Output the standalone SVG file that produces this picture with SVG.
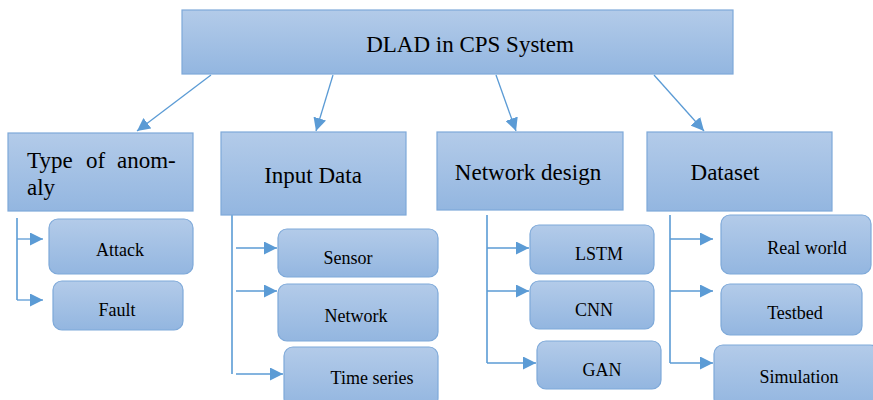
<svg xmlns="http://www.w3.org/2000/svg" width="873" height="400" viewBox="0 0 873 400">
<defs>
<linearGradient id="g" x1="0" y1="0" x2="0" y2="1">
<stop offset="0" stop-color="#b3cbe9"/>
<stop offset="1" stop-color="#93b6e0"/>
</linearGradient>
<marker id="ah2" viewBox="0 0 12 12" refX="12" refY="6" markerWidth="13" markerHeight="13" markerUnits="userSpaceOnUse" orient="auto">
<path d="M0,0 L12,6 L0,12 Z" fill="#5b9bd5"/>
</marker>
</defs>
<style>
.box{fill:url(#g);stroke:#7ea9d9;stroke-width:1.2}
text{font-family:'Liberation Serif','DejaVu Serif',serif;fill:#000}
.big{font-size:23px}
.sm{font-size:18px;text-anchor:middle}
.c{stroke:#5b9bd5;stroke-width:1.3;fill:none}
.br{stroke:#5b9bd5;stroke-width:1.6;fill:none}
</style>
<g id="connectors">
<line class="c" x1="211" y1="75" x2="137" y2="131" marker-end="url(#ah2)"/>
<line class="c" x1="333" y1="75" x2="316" y2="131" marker-end="url(#ah2)"/>
<line class="c" x1="496" y1="75" x2="516" y2="131" marker-end="url(#ah2)"/>
<line class="c" x1="654" y1="75" x2="704" y2="131" marker-end="url(#ah2)"/>
<polyline class="br" points="17,218 17,300"/>
<line class="c" x1="17" y1="239" x2="43" y2="239" marker-end="url(#ah2)"/>
<line class="c" x1="17" y1="300" x2="43" y2="300" marker-end="url(#ah2)"/>
<polyline class="br" points="232,215 232,374"/>
<line class="c" x1="236" y1="248" x2="277" y2="248" marker-end="url(#ah2)"/>
<line class="c" x1="236" y1="291" x2="277" y2="291" marker-end="url(#ah2)"/>
<line class="c" x1="236" y1="374" x2="283" y2="374" marker-end="url(#ah2)"/>
<polyline class="br" points="487,215 487,363"/>
<line class="c" x1="487" y1="248" x2="529" y2="248" marker-end="url(#ah2)"/>
<line class="c" x1="487" y1="291" x2="529" y2="291" marker-end="url(#ah2)"/>
<line class="c" x1="487" y1="363" x2="536" y2="363" marker-end="url(#ah2)"/>
<polyline class="br" points="670,215 670,363"/>
<line class="c" x1="670" y1="239" x2="713" y2="239" marker-end="url(#ah2)"/>
<line class="c" x1="670" y1="291" x2="713" y2="291" marker-end="url(#ah2)"/>
<line class="c" x1="670" y1="363" x2="713" y2="363" marker-end="url(#ah2)"/>
</g>
<g id="root">
<rect class="box" x="182" y="10" width="551" height="64"/>
<text class="big" x="470" y="52" text-anchor="middle">DLAD in CPS System</text>
</g>
<g id="type-of-anomaly">
<rect class="box" x="8" y="133" width="185" height="78"/>
<text class="big" y="168"><tspan x="27">Type</tspan><tspan x="86">of</tspan><tspan x="117">anom-</tspan></text>
<text class="big" x="27" y="195">aly</text>
</g>
<g id="input-data">
<rect class="box" x="221" y="132" width="185" height="83"/>
<text class="big" x="313" y="183" text-anchor="middle">Input Data</text>
</g>
<g id="network-design">
<rect class="box" x="437" y="132" width="186" height="78"/>
<text class="big" x="528" y="180" text-anchor="middle">Network design</text>
</g>
<g id="dataset">
<rect class="box" x="647" y="132" width="185" height="79"/>
<text class="big" x="725" y="180" text-anchor="middle">Dataset</text>
</g>
<g id="attack">
<rect class="box" x="49" y="219" width="144" height="55" rx="9"/>
<text class="sm" x="120" y="256">Attack</text>
</g>
<g id="fault">
<rect class="box" x="53" y="281" width="130" height="49" rx="9"/>
<text class="sm" x="117" y="316">Fault</text>
</g>
<g id="sensor">
<rect class="box" x="278" y="229" width="160" height="48" rx="9"/>
<text class="sm" x="348" y="264">Sensor</text>
</g>
<g id="network">
<rect class="box" x="278" y="284" width="160" height="57" rx="9"/>
<text class="sm" x="356" y="322">Network</text>
</g>
<g id="time-series">
<rect class="box" x="284" y="347" width="154" height="60" rx="9"/>
<text class="sm" x="372" y="384">Time series</text>
</g>
<g id="lstm">
<rect class="box" x="530" y="225" width="124" height="49" rx="9"/>
<text class="sm" x="599" y="260">LSTM</text>
</g>
<g id="cnn">
<rect class="box" x="530" y="281" width="124" height="48" rx="9"/>
<text class="sm" x="594" y="316">CNN</text>
</g>
<g id="gan">
<rect class="box" x="537" y="341" width="124" height="48" rx="9"/>
<text class="sm" x="602" y="376">GAN</text>
</g>
<g id="real-world">
<rect class="box" x="721" y="215" width="150" height="59" rx="9"/>
<text class="sm" x="807" y="254">Real world</text>
</g>
<g id="testbed">
<rect class="box" x="721" y="284" width="141" height="51" rx="9"/>
<text class="sm" x="795" y="319">Testbed</text>
</g>
<g id="simulation">
<rect class="box" x="714" y="345" width="165" height="62" rx="9"/>
<text class="sm" x="799" y="383">Simulation</text>
</g>
</svg>
